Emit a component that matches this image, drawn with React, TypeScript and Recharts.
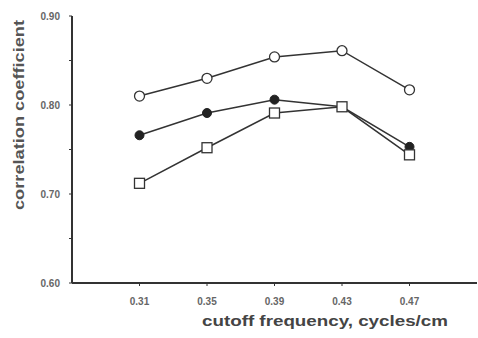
import { LineChart, Line, XAxis, YAxis } from "recharts";

const cutoffLabels = ["0.31", "0.35", "0.39", "0.43", "0.47"];
const openCircle = [0.81, 0.83, 0.854, 0.861, 0.817];
const filledCircle = [0.766, 0.791, 0.806, 0.798, 0.753];
const openSquare = [0.712, 0.752, 0.791, 0.798, 0.744];
const yTicks = [0.6, 0.65, 0.7, 0.75, 0.8, 0.85, 0.9];

const data = cutoffLabels.map((label, i) => ({
  idx: i,
  label,
  a: openCircle[i],
  b: filledCircle[i],
  c: openSquare[i],
}));

const font = "'Liberation Sans', Arial, sans-serif";

const OpenDot = (props: any) => {
  const { cx, cy, key } = props;
  return <circle key={key} cx={cx} cy={cy} r={5} fill="#fff" stroke="#333" strokeWidth={1.3} />;
};

const FilledDot = (props: any) => {
  const { cx, cy, key } = props;
  return <circle key={key} cx={cx} cy={cy} r={4.5} fill="#222" stroke="#222" strokeWidth={1} />;
};

const SquareDot = (props: any) => {
  const { cx, cy, key } = props;
  return (
    <rect key={key} x={cx - 5} y={cy - 5} width={10} height={10} fill="#fff" stroke="#333" strokeWidth={1.3} />
  );
};

export default function App() {
  return (
    <div style={{ position: "absolute", left: 0, top: 0, background: "#fff" }}>
      <LineChart
        width={478}
        height={338}
        data={data}
        margin={{ top: 16, right: 1, left: 0, bottom: 0 }}
      >
        <XAxis
          dataKey="idx"
          type="number"
          domain={[-1, 5]}
          ticks={[0, 1, 2, 3, 4]}
          tickFormatter={(v: number) => cutoffLabels[v] ?? ""}
          height={55}
          axisLine={{ stroke: "#333", strokeWidth: 2 }}
          tickLine={{ stroke: "#333" }}
          tickSize={3}
          tickMargin={12}
          tick={{ fontSize: 10, fill: "#666", fontFamily: font, fontWeight: "bold" }}
          label={() => (
            <text
              x={325}
              y={326}
              textAnchor="middle"
              fontSize={15}
              fontWeight="bold"
              fill="#444"
              fontFamily={font}
              textLength={246}
              lengthAdjust="spacingAndGlyphs"
            >
              cutoff frequency,  cycles/cm
            </text>
          )}
        />
        <YAxis
          type="number"
          domain={[0.6, 0.9]}
          ticks={yTicks}
          width={72}
          tickFormatter={(v: number) =>
            Math.round(v * 100) % 10 === 0 ? v.toFixed(2) : ""
          }
          axisLine={{ stroke: "#333", strokeWidth: 2 }}
          tickLine={{ stroke: "#333" }}
          tickSize={3}
          tickMargin={9}
          tick={{ fontSize: 10, fill: "#666", fontFamily: font, fontWeight: "bold" }}
          label={() => (
            <text
              x={18}
              y={115}
              transform="rotate(-90 18 115)"
              textAnchor="middle"
              dominantBaseline="central"
              fontSize={15}
              fontWeight="bold"
              fill="#555"
              fontFamily={font}
              textLength={190}
              lengthAdjust="spacingAndGlyphs"
            >
              correlation coefficient
            </text>
          )}
        />
        <Line
          dataKey="a"
          stroke="#333"
          strokeWidth={1.5}
          dot={OpenDot}
          isAnimationActive={false}
        />
        <Line
          dataKey="b"
          stroke="#333"
          strokeWidth={1.5}
          dot={FilledDot}
          isAnimationActive={false}
        />
        <Line
          dataKey="c"
          stroke="#333"
          strokeWidth={1.5}
          dot={SquareDot}
          isAnimationActive={false}
        />
      </LineChart>
    </div>
  );
}
